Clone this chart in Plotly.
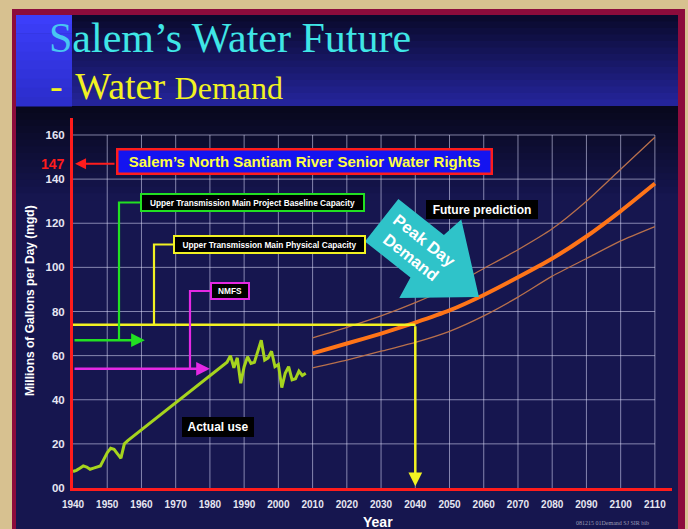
import numpy as np
import plotly.graph_objects as go

# ---------------- data ----------------
actual_years = [1940, 1941, 1942, 1943, 1944, 1945, 1946, 1947, 1948, 1949, 1950,
                1951, 1952, 1953, 1954, 1955, 1956, 1985, 1986, 1987, 1988, 1989,
                1990, 1991, 1992, 1993, 1994, 1995, 1996, 1997, 1998, 1999, 2000,
                2001, 2002, 2003, 2004, 2005, 2006, 2007, 2008]
actual_mgd = [7.5, 8, 9, 10, 9.5, 8.5, 9, 9.5, 10, 13, 16,
              18, 17.5, 15.5, 13.5, 20, 21.5, 57, 60, 54.5, 59, 47.5,
              55, 59.5, 56.5, 57, 62, 67, 58, 59, 62, 55, 56,
              45.5, 52, 55, 49, 49.5, 53, 51, 52]

forecast_years = [2010, 2020, 2030, 2040, 2050, 2060, 2070, 2080, 2090, 2100, 2110]
forecast_mid = [61, 65.5, 70, 75, 80.5, 87.5, 95.5, 104, 114, 125.5, 138]
forecast_high = [68, 72.8, 78, 84, 91, 99.5, 108, 117.5, 130, 144.5, 159]
forecast_low = [54.5, 58, 62, 66, 71, 78, 86.5, 96, 104, 112, 118.5]

senior_rights_mgd = 147
baseline_capacity_mgd = 67
physical_capacity_mgd = 74
nmfs_mgd = 54
physical_capacity_year = 2040

x_tick_vals = [1940, 1950, 1960, 1970, 1980, 1990, 2000, 2010, 2020,
               2030, 2040, 2050, 2060, 2070, 2080, 2090, 2100, 2110]
x_tick_text = [str(v) for v in x_tick_vals]
y_tick_vals = [0, 20, 40, 60, 80, 100, 120, 140, 160]
y_tick_text = ["00", "20", "40", "60", "80", "100", "120", "140", "160"]

# ---------------- geometry / style ----------------
W, H = 688, 529
L, R, T, B = 73, 16, 118, 41
PW, PH = W - L - R, H - T - B
X0, X1 = 1940, 2115
Y0, Y1 = 0, 167.7
SX = PW / (X1 - X0)
SY = PH / (Y1 - Y0)

def pxX(x):
    return (x - L) / PW

def pxY(y):
    return (H - B - y) / PH

def px2year(x):
    return X0 + (x - L) / SX

def px2val(y):
    return Y0 + (H - B - y) / SY

SANS = "Liberation Sans"
SERIF = "Liberation Serif"
GRID = "rgba(225,225,255,0.55)"
RED = "#ff1c1c"
GREEN = "#22e022"
YELLOW = "#f2f222"
MAGENTA = "#e428e4"
ACTUAL = "#a6d41e"
ORANGE = "#ff7418"
ORANGE_THIN = "#b8704c"
CYAN = "#2fc3c9"

shapes = []

def rect(x0, y0, x1, y1, color):
    shapes.append(dict(type="rect", xref="paper", yref="paper",
                       x0=pxX(x0), x1=pxX(x1), y0=pxY(y1), y1=pxY(y0),
                       fillcolor=color, line=dict(width=0), layer="below"))

def hexrgb(c):
    c = c.lstrip("#")
    return [int(c[i:i + 2], 16) for i in (0, 2, 4)]

def grad(x0, x1, y0, y1, c0, c1, n):
    a, b = hexrgb(c0), hexrgb(c1)
    h = (y1 - y0) / n
    for i in range(n):
        t = i / max(n - 1, 1)
        col = "rgb(%d,%d,%d)" % tuple(int(a[k] + (b[k] - a[k]) * t) for k in range(3))
        rect(x0, y0 + i * h, x1, y0 + (i + 1) * h + 0.6, col)

# frame & slide background
rect(12, 9, 685, 535, "#8c0c3c")
rect(16, 15, 678, 535, "#16164f")
grad(16, 678, 15, 106, "#0a0a2e", "#24249a", 14)
grad(16, 678, 106, 200, "#08081e", "#16164f", 14)
grad(16, 72, 15, 106, "#3c3efa", "#2c2ecc", 10)

# gridlines (limited to the tick extent)
for xv in x_tick_vals[1:]:
    shapes.append(dict(type="line", xref="x", yref="y", x0=xv, x1=xv,
                       y0=y_tick_vals[0], y1=y_tick_vals[-1],
                       line=dict(color=GRID, width=1), layer="below"))
for yv in y_tick_vals[1:]:
    shapes.append(dict(type="line", xref="x", yref="y", x0=x_tick_vals[0],
                       x1=x_tick_vals[-1], y0=yv, y1=yv,
                       line=dict(color=GRID, width=1), layer="below"))

fig = go.Figure()

# forecast lines
for vals, col, w in [(forecast_high, ORANGE_THIN, 1.3), (forecast_low, ORANGE_THIN, 1.3),
                     (forecast_mid, ORANGE, 4)]:
    fig.add_trace(go.Scatter(x=forecast_years, y=vals, mode="lines",
                             line=dict(color=col, width=w, shape="spline", smoothing=0.6),
                             hoverinfo="skip"))

# actual use
fig.add_trace(go.Scatter(x=actual_years, y=actual_mgd, mode="lines",
                         line=dict(color=ACTUAL, width=3), hoverinfo="skip"))

# physical capacity horizontal line
fig.add_trace(go.Scatter(x=[X0, physical_capacity_year],
                         y=[physical_capacity_mgd, physical_capacity_mgd], mode="lines",
                         line=dict(color=YELLOW, width=2.5), hoverinfo="skip"))

# label boxes (pixel centre x, centre y, width, height)
boxes = {
    "senior": (304.5, 161.5, 377, 27),
    "baseline": (252.5, 202.5, 225, 19),
    "physical": (269.5, 244.5, 193, 19),
    "nmfs": (230, 291, 40, 18),
    "actual": (218, 427, 72, 20),
    "future": (482, 209, 112, 19),
}
connector_px = {"baseline": 119, "physical": 154, "nmfs": 190}

# connectors from capacity lines to their labels
for key, level, col in [("baseline", baseline_capacity_mgd, GREEN),
                        ("physical", physical_capacity_mgd, YELLOW),
                        ("nmfs", nmfs_mgd, MAGENTA)]:
    cx, cy, bw, bh = boxes[key]
    xc = px2year(connector_px[key])
    xb = px2year(cx - bw / 2)
    yb = px2val(cy)
    fig.add_trace(go.Scatter(x=[xc, xc, xb], y=[level, yb, yb], mode="lines",
                             line=dict(color=col, width=2.2), hoverinfo="skip"))

# Peak Day Demand arrow
tip_year = 2058.6
tip_val = float(np.interp(tip_year, forecast_years, forecast_mid))
ang = np.deg2rad(38.3)
u = np.array([np.cos(ang), np.sin(ang)])
p = np.array([np.sin(ang), -np.cos(ang)])
arrow_pts = [(-124, 27), (-66, 27), (-62, 50), (0, 0), (-62, -50), (-66, -27), (-124, -27)]
path = ""
for i, (a, s) in enumerate(arrow_pts):
    d = a * u + s * p
    xx = tip_year + d[0] / SX
    yy = tip_val - d[1] / SY
    path += ("M" if i == 0 else "L") + "%.3f,%.3f " % (xx, yy)
path += "Z"
shapes.append(dict(type="path", xref="x", yref="y", path=path, fillcolor=CYAN,
                   line=dict(width=0), layer="above"))
dtext = -78 * u
text_year = tip_year + dtext[0] / SX
text_val = tip_val - dtext[1] / SY

annotations = []

def box(key, text, fcol, fsize, bg, border, bwidth):
    cx, cy, bw, bh = boxes[key]
    annotations.append(dict(
        x=pxX(cx), y=pxY(cy), xref="paper", yref="paper", xanchor="center", yanchor="middle",
        text=text, showarrow=False, font=dict(family=SANS, size=fsize, color=fcol, weight="bold"),
        bgcolor=bg, bordercolor=border, borderwidth=bwidth, borderpad=0,
        width=bw - 2 * bwidth, height=bh - 2 * bwidth, align="center", valign="middle"))

box("senior", "Salem’s North Santiam River Senior Water Rights", "#ffff44", 15, "#1414f0", RED, 2.5)
box("baseline", "Upper Transmission Main Project Baseline Capacity", "#ffffff", 8.3, "#000000", GREEN, 2)
box("physical", "Upper Transmission Main Physical Capacity", "#ffffff", 8.3, "#000000", YELLOW, 2)
box("nmfs", "NMFS", "#ffffff", 8.3, "#000000", MAGENTA, 2)
box("actual", "Actual use", "#ffffff", 12, "#000000", "rgba(0,0,0,0)", 0)
box("future", "Future prediction", "#ffffff", 12, "#000000", "rgba(0,0,0,0)", 0)

def arrow(xh, yh, xt, yt, col, w):
    annotations.append(dict(x=xh, y=yh, ax=xt, ay=yt, xref="x", yref="y", axref="x", ayref="y",
                            text="", showarrow=True, arrowhead=2, arrowsize=1.1,
                            arrowwidth=w, arrowcolor=col, standoff=0, startstandoff=0))

arrow(1961, baseline_capacity_mgd, X0, baseline_capacity_mgd, GREEN, 2.5)
arrow(1980, nmfs_mgd, X0, nmfs_mgd, MAGENTA, 2.5)
arrow(physical_capacity_year, 0.8, physical_capacity_year, physical_capacity_mgd, YELLOW, 2.5)
sx_, sy_, sw_, sh_ = boxes["senior"]
arrow(X0 + 0.6, senior_rights_mgd, px2year(sx_ - sw_ / 2), senior_rights_mgd, RED, 2)

# red 147 label
annotations.append(dict(x=pxX(67), y=senior_rights_mgd, xref="paper", yref="y",
                        xanchor="right", yanchor="middle", text=str(senior_rights_mgd),
                        showarrow=False, font=dict(family=SANS, size=14, color=RED, weight="bold")))

# Peak Day Demand text
annotations.append(dict(x=text_year, y=text_val, xref="x", yref="y", xanchor="center",
                        yanchor="middle", text="Peak Day<br>Demand", showarrow=False,
                        textangle=38.3,
                        font=dict(family=SANS, size=16.5, color="#ffffff", weight="bold")))

# titles
annotations.append(dict(x=pxX(47), y=pxY(38), xref="paper", yref="paper", xanchor="left",
                        yanchor="middle", showarrow=False,
                        text="<span style='color:#48c6f2'>S</span>alem’s Water Future",
                        font=dict(family=SERIF, size=42, color="#3fe6e6")))
annotations.append(dict(x=pxX(48), y=pxY(86), xref="paper", yref="paper", xanchor="left",
                        yanchor="middle", showarrow=False,
                        text="- \u200aWater <span style='font-size:32px'>Demand</span>",
                        font=dict(family=SERIF, size=38, color="#f2f222")))

# axis titles and footnote
annotations.append(dict(x=pxX(30), y=pxY(301), xref="paper", yref="paper", xanchor="center",
                        yanchor="middle", showarrow=False, textangle=-90,
                        text="Millions of Gallons per Day (mgd)",
                        font=dict(family=SANS, size=12, color="#ffffff", weight="bold")))
annotations.append(dict(x=pxX(378), y=pxY(522), xref="paper", yref="paper", xanchor="center",
                        yanchor="middle", showarrow=False, text="Year",
                        font=dict(family=SANS, size=14, color="#ffffff", weight="bold")))
annotations.append(dict(x=pxX(612), y=pxY(523), xref="paper", yref="paper", xanchor="center",
                        yanchor="middle", showarrow=False, text="081215 01Demand SJ SIR bib",
                        font=dict(family=SERIF, size=6, color="#9a9ab4")))

fig.update_layout(
    width=W, height=H,
    margin=dict(l=L, r=R, t=T, b=B, pad=0),
    paper_bgcolor="#d7c190",
    plot_bgcolor="rgba(0,0,0,0)",
    showlegend=False,
    shapes=shapes,
    annotations=annotations,
    xaxis=dict(range=[X0, X1], showgrid=False, zeroline=False, showline=True,
               linecolor=RED, linewidth=3, tickmode="array", tickvals=x_tick_vals,
               ticktext=x_tick_text, ticks="outside", ticklen=5,
               tickcolor="rgba(0,0,0,0)",
               tickfont=dict(family=SANS, size=10, color="#e6e6f2", weight="bold"),
               fixedrange=True),
    yaxis=dict(range=[Y0, Y1], showgrid=False, zeroline=False, showline=True,
               linecolor=RED, linewidth=3, tickmode="array", tickvals=y_tick_vals,
               ticktext=y_tick_text, ticks="outside", ticklen=3,
               tickcolor="rgba(0,0,0,0)",
               tickfont=dict(family=SANS, size=11.5, color="#e6e6f2", weight="bold"),
               fixedrange=True),
)

fig.write_html("out.html", config={"displayModeBar": False},
               post_script="document.body.style.margin='0';")
